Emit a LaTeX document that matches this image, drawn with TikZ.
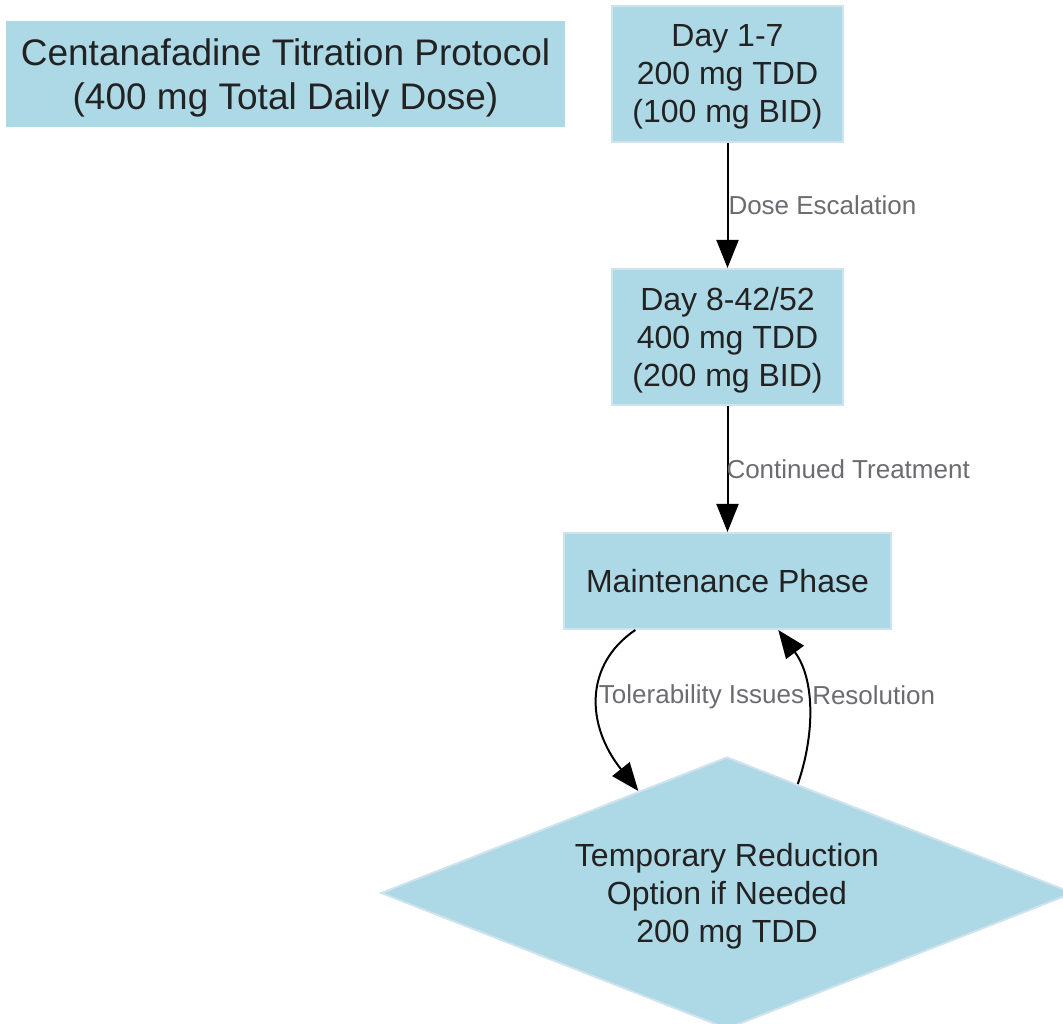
\documentclass[tikz,border=0pt]{standalone}
\usepackage{fontspec}
\setmainfont{Liberation Sans}
\usetikzlibrary{shapes.geometric,arrows.meta}
\definecolor{boxfill}{HTML}{ADD8E6}
\definecolor{boxline}{HTML}{CFE3EF}
\definecolor{boxtext}{HTML}{222222}
\definecolor{edgetext}{HTML}{6B6B70}

\begin{document}
\begin{tikzpicture}[x=1pt, y=1pt, thick,
    main/.style = {draw=boxline, line width=2pt, fill=boxfill, text=boxtext, align=center, inner sep=0pt, text depth=0pt, font=\fontsize{32}{38}\selectfont},
    lbl/.style = {text=edgetext, font=\fontsize{26}{30}\selectfont, inner sep=0pt, text depth=0pt},
    link/.style = {line width=2pt, -{Triangle[length=28pt,width=22pt]}}]
        \useasboundingbox (0,0) rectangle (1063,1024);
        \node[main, draw=none, minimum width=559pt, minimum height=106pt, text depth=-4pt, font=\fontsize{37}{44}\selectfont] (title) at (285.5,950) {Centanafadine Titration Protocol\\(400 mg Total Daily Dose)};
        \node[main, minimum width=231pt, minimum height=136pt, text depth=-4pt] (day1) at (727.5,950) {Day 1-7\\200 mg TDD\\(100 mg BID)};
        \node[main, minimum width=231pt, minimum height=136pt, text depth=-4pt] (day8) at (727.5,687) {Day 8-42/52\\400 mg TDD\\(200 mg BID)};
        \node[main, minimum width=327pt, minimum height=96pt] (maint) at (727.5,443) {Maintenance Phase};
        \node[main, diamond, aspect=2.5, minimum width=692pt, minimum height=272pt] (reduce) at (727,131) {Temporary Reduction\\Option if Needed\\200 mg TDD};
        \draw[link] (day1) -- (day8) node[lbl, pos=0.5, anchor=west] {Dose Escalation};
        \draw[link] (day8) -- (maint) node[lbl, pos=0.5, anchor=west, xshift=-2pt] {Continued Treatment};
        \draw[link] (maint.208) .. controls (585,360) and (585,300) .. (reduce.131.5) node[lbl, pos=0.5, anchor=west, yshift=4pt] {Tolerability Issues};
        \draw[link] (reduce.57.8) .. controls (815,290) and (815,345) .. (maint.316) node[lbl, pos=0.5, anchor=west, xshift=3pt, yshift=12pt] {Resolution};
    \end{tikzpicture}
\end{document}
